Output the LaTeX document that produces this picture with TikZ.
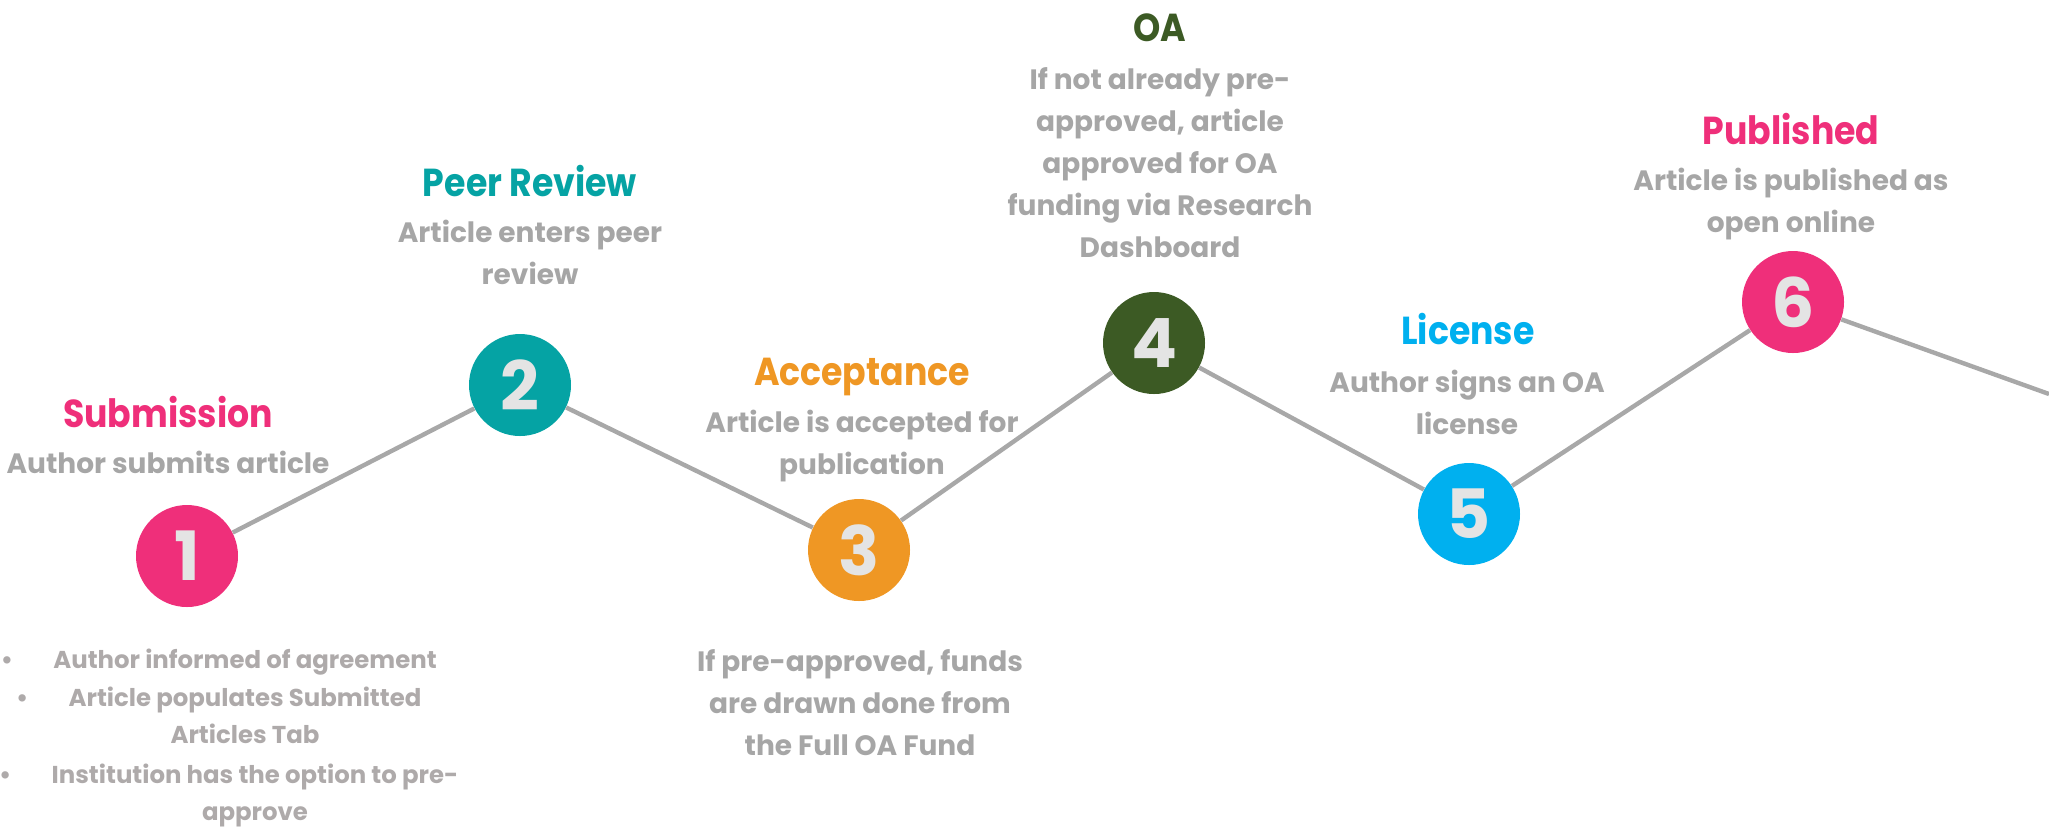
\documentclass[tikz,border=0pt]{standalone}
\usepackage{fontspec}
\newfontfamily\stepfont{Poppins}
\newfontfamily\titlefont{Poppins}[FakeStretch=0.89]
\definecolor{subpink}{HTML}{EF2F7A}
\definecolor{reviewteal}{HTML}{05A3A4}
\definecolor{acceptorange}{HTML}{EF9724}
\definecolor{oagreen}{HTML}{3C5A24}
\definecolor{licensecyan}{HTML}{00B0EF}
\definecolor{numgray}{HTML}{E4E4E4}
\definecolor{notegray}{HTML}{A6A6A6}
\definecolor{bulletgray}{HTML}{AEAAAA}
\definecolor{linegray}{HTML}{A8A8A8}

\begin{document}
\begin{tikzpicture}[x=0.5pt,y=-0.5pt,
    stepdot/.style={circle, fill=#1, minimum size=51pt, inner sep=0pt, text=numgray,
      font={\stepfont\bfseries\fontsize{34}{34}\selectfont}},
    steptitle/.style={text=#1, anchor=base, inner sep=0pt,
      font={\titlefont\bfseries\fontsize{19.5}{22}\selectfont}},
    stepnote/.style={text=notegray, anchor=base, align=center, inner sep=0pt,
      font={\stepfont\bfseries\fontsize{14}{21}\selectfont}},
    itemnote/.style={stepnote, text=bulletgray,
      font={\stepfont\bfseries\fontsize{12.2}{18.5}\selectfont}},
    track/.style={draw=linegray, line width=2.2pt}]
  % page frame
  \useasboundingbox (0,0) rectangle (2049,827);

  % the six steps
  \node[stepdot=subpink] (c1) at (187,556) {1};
  \node[stepdot=reviewteal] (c2) at (520,385) {2};
  \node[stepdot=acceptorange] (c3) at (859,550) {3};
  \node[stepdot=oagreen] (c4) at (1154,343) {4};
  \node[stepdot=licensecyan] (c5) at (1469,514) {5};
  \node[stepdot=subpink] (c6) at (1793,302) {6};
  \coordinate (tail) at (2049,394);

  % zigzag line through the steps
  \draw[track] (c1) -- (c2) -- (c3) -- (c4) -- (c5) -- (c6) -- (tail);

  % titles and notes (notes sit on their last baseline)
  \node[steptitle=subpink] (t1) at (168,427) {Submission};
  \node[stepnote] (n1) at (168,473) {Author submits article};
  \node[steptitle=reviewteal] (t2) at (530,196) {Peer Review};
  \node[stepnote] (n2) at (530,284) {Article enters peer\\review};
  \node[steptitle=acceptorange] (t3) at (862,385) {Acceptance};
  \node[stepnote] (n3) at (862,474) {Article is accepted for\\publication};
  \node[stepnote] (f3) at (860,755) {If pre-approved, funds\\are drawn done from\\the Full OA Fund};
  \node[steptitle=oagreen] (t4) at (1160,41) {OA};
  \node[stepnote] (n4) at (1160,257) {If not already pre-\\approved, article\\approved for OA\\funding via Research\\Dashboard};
  \node[steptitle=licensecyan] (t5) at (1468,344) {License};
  \node[stepnote] (n5) at (1467,434) {Author signs an OA\\license};
  \node[steptitle=subpink] (t6) at (1791,144) {Published};
  \node[stepnote] (n6) at (1791,232) {Article is published as\\open online};

  % bullet list under step 1
  \node[itemnote] (i1) at (245,668) {Author informed of agreement};
  \node[itemnote] (i2) at (245,743) {Article populates Submitted\\Articles Tab};
  \node[itemnote] (i3) at (255,820) {Institution has the option to pre-\\approve};
  \node[itemnote] at ([xshift=-23pt]i1.base west) {\textbullet};
  \foreach \i in {i2,i3}
    \node[itemnote] at ([xshift=-23pt,yshift=18.5pt]\i.base west) {\textbullet};
\end{tikzpicture}
\end{document}
